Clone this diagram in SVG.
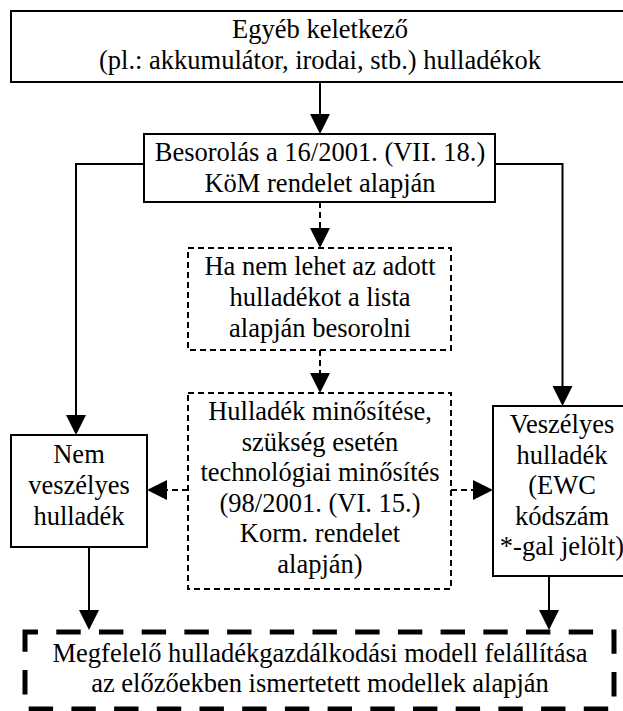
<svg xmlns="http://www.w3.org/2000/svg" width="623" height="711" viewBox="0 0 623 711">
<style>
  .box { fill: #fff; stroke: #000; stroke-width: 2; }
  .dbox { fill: #fff; stroke: #000; stroke-width: 2; stroke-dasharray: 6 4; }
  .tbox { fill: none; stroke: #000; stroke-width: 5; stroke-dasharray: 24.4 18.3; stroke-dashoffset: 11.4; }
  .c { fill: none; stroke: #000; stroke-width: 2; }
  .cd { fill: none; stroke: #000; stroke-width: 2; stroke-dasharray: 6 4; }
</style>
<defs>
  <marker id="ah" viewBox="0 0 20 20" refX="10" refY="10" markerWidth="20" markerHeight="20" markerUnits="userSpaceOnUse" orient="auto">
    <path d="M0,0 L20,10 L0,20 Z" fill="#000" stroke="none"/>
  </marker>
</defs>
<rect width="623" height="711" fill="#fff"/>

<g id="connectors">
  <path class="c" d="M320,82 V124" marker-end="url(#ah)"/>
  <path class="c" d="M144,164 H76 V425" marker-end="url(#ah)"/>
  <path class="c" d="M495,164 H562.5 V396" marker-end="url(#ah)"/>
  <path class="cd" d="M320,202 V238" marker-end="url(#ah)"/>
  <path class="cd" d="M320,350 V383" marker-end="url(#ah)"/>
  <path class="cd" d="M188,490 H157" marker-end="url(#ah)"/>
  <path class="cd" d="M451,490 H483" marker-end="url(#ah)"/>
  <path class="c" d="M89,547 V620" marker-end="url(#ah)"/>
  <path class="c" d="M549,576 V620" marker-end="url(#ah)"/>
</g>

<g font-family="Liberation Serif, Times New Roman, serif" font-size="26.5" text-anchor="middle" fill="#000">
<g id="n-top">
  <rect class="box" x="11" y="11" width="618" height="71"/>
  <text x="320" y="38">Egyéb keletkező</text>
  <text x="320" y="68.5">(pl.: akkumulátor, irodai, stb.) hulladékok</text>
</g>

<g id="n-besorolas">
  <rect class="box" x="144" y="134" width="351" height="68"/>
  <text x="320" y="161">Besorolás a 16/2001. (VII. 18.)</text>
  <text x="320" y="192">KöM rendelet alapján</text>
</g>

<g id="n-hanem">
  <rect class="dbox" x="188" y="248" width="263" height="102"/>
  <text x="320" y="275">Ha nem lehet az adott</text>
  <text x="320" y="306">hulladékot a lista</text>
  <text x="320" y="337">alapján besorolni</text>
</g>

<g id="n-minosites">
  <rect class="dbox" x="188" y="393" width="263" height="196"/>
  <text x="320" y="420">Hulladék minősítése,</text>
  <text x="320" y="450.5">szükség esetén</text>
  <text x="320" y="481">technológiai minősítés</text>
  <text x="320" y="511.5">(98/2001. (VI. 15.)</text>
  <text x="320" y="542">Korm. rendelet</text>
  <text x="320" y="572.5">alapján)</text>
</g>

<g id="n-nem">
  <rect class="box" x="11" y="435" width="136" height="112"/>
  <text x="79" y="463">Nem</text>
  <text x="79" y="494">veszélyes</text>
  <text x="79" y="525">hulladék</text>
</g>

<g id="n-veszelyes">
  <rect class="box" x="493" y="406" width="138" height="170"/>
  <text x="562" y="433">Veszélyes</text>
  <text x="562" y="463.5">hulladék</text>
  <text x="562" y="494">(EWC</text>
  <text x="562" y="524.5">kódszám</text>
  <text x="562" y="555">*-gal jelölt)</text>
</g>

<g id="n-modell">
  <path class="tbox" d="M25,632 H614 V709 H25 Z"/>
  <text x="320" y="662">Megfelelő hulladékgazdálkodási modell felállítása</text>
  <text x="320" y="692">az előzőekben ismertetett modellek alapján</text>
</g>
</g>
</svg>
